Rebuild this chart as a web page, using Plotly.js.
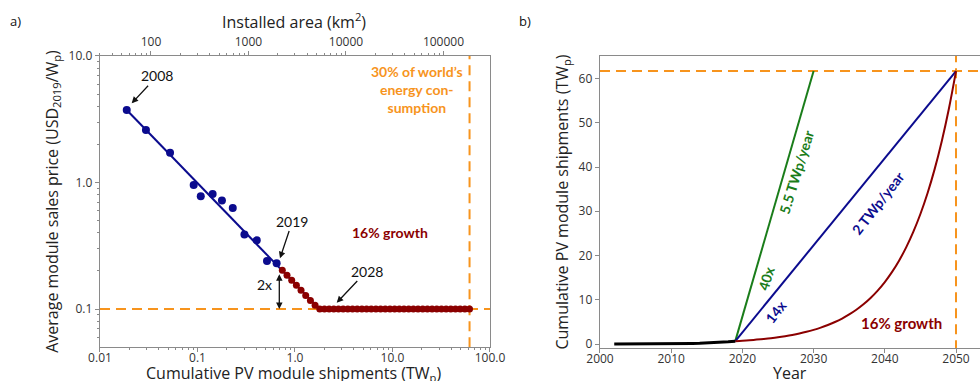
<!DOCTYPE html>
<html>
<head>
<meta charset="utf-8">
<script src="https://cdn.plot.ly/plotly-3.0.1.min.js"></script>
<style>html,body{margin:0;padding:0;background:#fff;}#chart{width:980px;height:381px;}</style>
</head>
<body>
<div id="chart"></div>
<script>
// ---- Panel a data: learning curve ----
const histShipments = [0.0188, 0.0296, 0.0523, 0.0914, 0.108, 0.143, 0.178, 0.230, 0.303, 0.405, 0.516, 0.648]; // TWp, 2008-2019
const histPrice = [3.74, 2.60, 1.72, 0.955, 0.78, 0.81, 0.72, 0.63, 0.389, 0.349, 0.24, 0.23]; // USD2019/Wp
const fitShipments = [0.0188, 1.78];
const fitPrice = [3.74, 0.1];
const projShipments = [0.741, 0.828, 0.925, 1.033, 1.153, 1.288, 1.439, 1.607, 1.795, 2.004, 2.239, 2.500, 2.793, 3.119, 3.483, 3.890, 4.345, 4.853, 5.420, 6.053, 6.761, 7.551, 8.433, 9.419, 10.52, 11.75, 13.12, 14.66, 16.37, 18.28, 20.42, 22.80, 25.47, 28.44, 31.77, 35.48, 39.63, 44.26, 49.43, 55.21, 61.66];
const projPrice = [0.203, 0.185, 0.169, 0.154, 0.141, 0.128, 0.117, 0.107, 0.1, 0.1, 0.1, 0.1, 0.1, 0.1, 0.1, 0.1, 0.1, 0.1, 0.1, 0.1, 0.1, 0.1, 0.1, 0.1, 0.1, 0.1, 0.1, 0.1, 0.1, 0.1, 0.1, 0.1, 0.1, 0.1, 0.1, 0.1, 0.1, 0.1, 0.1, 0.1, 0.1];
const floorPrice = 0.1;
const targetTW = 61.7;
const xTickVals = [0.01, 0.1, 1, 10, 100];
const xTickText = ['0.01', '0.1', '1.0', '10.0', '100.0'];
const yTickVals = [0.1, 1, 10];
const yTickText = ['0.1', '1.0', '10.0'];
const areaTickVals = [100, 1000, 10000, 100000];
const areaTickText = ['100', '1000', '10000', '100000'];
const areaPerTW = 3000; // km² per TWp

// ---- Panel b data: cumulative shipments ----
const histYears = [2002, 2003, 2004, 2005, 2006, 2007, 2008, 2009, 2010, 2011, 2012, 2013, 2014, 2015, 2016, 2017, 2018, 2019];
const histCum = [0.002, 0.003, 0.004, 0.006, 0.008, 0.011, 0.0188, 0.0296, 0.0523, 0.0914, 0.108, 0.143, 0.178, 0.230, 0.303, 0.405, 0.516, 0.648];
const growthYears = [2019, 2020, 2021, 2022, 2023, 2024, 2025, 2026, 2027, 2028, 2029, 2030, 2031, 2032, 2033, 2034, 2035, 2036, 2037, 2038, 2039, 2040, 2041, 2042, 2043, 2044, 2045, 2046, 2047, 2048, 2049, 2050];
const growthCum = [0.648, 0.747, 0.862, 0.995, 1.150, 1.329, 1.537, 1.779, 2.059, 2.384, 2.760, 3.197, 3.704, 4.292, 4.974, 5.766, 6.684, 7.748, 8.984, 10.416, 12.078, 14.006, 16.242, 18.836, 21.846, 25.336, 29.386, 34.082, 39.531, 45.852, 53.184, 61.689];
const fastYears = [2019, 2030];
const fastCum = [0.648, 61.7];
const linYears = [2019, 2050];
const linCum = [0.648, 61.7];
const targetYear = 2050;

const BLUE = '#0b0b8e', RED = '#8b0000', GREEN = '#1a7d1a', ORANGE = '#f7941d';
const SPINE = '#8a8a8a', TICKC = '#333';
const FONT = 'Open Sans, sans-serif', AFONT = 'Lato, sans-serif';

function minorLog(lo, hi) {
  const v = [];
  for (let d = lo; d < hi; d *= 10) for (let k = 2; k <= 9; k++) v.push(d * k);
  return v;
}

const traces = [
  {x: [0.01, 100], y: [floorPrice, floorPrice], xaxis: 'x', yaxis: 'y', mode: 'lines', line: {color: ORANGE, width: 2, dash: '10px,6px'}, hoverinfo: 'skip'},
  {x: [targetTW, targetTW], y: [0.05, 10], xaxis: 'x', yaxis: 'y', mode: 'lines', line: {color: ORANGE, width: 2, dash: '10px,6px'}, hoverinfo: 'skip'},
  {x: fitShipments, y: fitPrice, xaxis: 'x', yaxis: 'y', mode: 'lines', line: {color: BLUE, width: 2}},
  {x: histShipments, y: histPrice, xaxis: 'x', yaxis: 'y', mode: 'markers', marker: {color: BLUE, size: 8}},
  {x: projShipments, y: projPrice, xaxis: 'x', yaxis: 'y', mode: 'markers', marker: {color: RED, size: 7}},
  {x: areaTickVals, y: areaTickVals.map(() => floorPrice), xaxis: 'x3', yaxis: 'y', mode: 'markers', marker: {opacity: 0}, hoverinfo: 'skip'},
  // panel b
  {x: [2000, 2060], y: [targetTW, targetTW], xaxis: 'x2', yaxis: 'y2', mode: 'lines', line: {color: ORANGE, width: 2, dash: '10px,6px'}, hoverinfo: 'skip'},
  {x: [targetYear, targetYear], y: [-5, 70], xaxis: 'x2', yaxis: 'y2', mode: 'lines', line: {color: ORANGE, width: 2, dash: '10px,6px'}, hoverinfo: 'skip'},
  {x: fastYears, y: fastCum, xaxis: 'x2', yaxis: 'y2', mode: 'lines', line: {color: GREEN, width: 2}},
  {x: linYears, y: linCum, xaxis: 'x2', yaxis: 'y2', mode: 'lines', line: {color: BLUE, width: 2}},
  {x: growthYears, y: growthCum, xaxis: 'x2', yaxis: 'y2', mode: 'lines', line: {color: RED, width: 2, shape: 'spline'}},
  {x: histYears, y: histCum, xaxis: 'x2', yaxis: 'y2', mode: 'lines', line: {color: '#000', width: 3}}
];

const tickFont = {family: FONT, size: 12, color: TICKC};
const titleFont = {family: FONT, size: 16, color: '#222'};
const axCommon = {showgrid: false, zeroline: false, showline: true, linecolor: SPINE, linewidth: 1.3, ticks: 'outside', ticklen: 4, tickwidth: 1, tickcolor: SPINE, tickfont: tickFont, automargin: false};

const lg = Math.log10;
const annA = (o) => Object.assign({xref: 'x', yref: 'y', font: {family: AFONT, size: 14, color: '#111'}, arrowcolor: '#111', arrowwidth: 1.3, arrowhead: 2, arrowsize: 1}, o);
const annB = (o) => Object.assign({xref: 'x2', yref: 'y2', showarrow: false, font: {family: AFONT, size: 14}}, o);
const annP = (o) => Object.assign({xref: 'paper', yref: 'paper', showarrow: false, xanchor: 'center', yanchor: 'middle', font: titleFont}, o);

const layout = {
  width: 980, height: 381,
  margin: {l: 0, r: 0, t: 0, b: 0},
  paper_bgcolor: '#fff', plot_bgcolor: '#fff',
  showlegend: false,
  xaxis: Object.assign({}, axCommon, {domain: [0.10204, 0.5], anchor: 'y', type: 'log', range: [-2, 2], mirror: true,
    tickmode: 'array', tickvals: xTickVals, ticktext: xTickText, ticklabelstandoff: -5,
    minor: {tickmode: 'array', tickvals: minorLog(0.01, 100), ticks: 'outside', ticklen: 2, tickcolor: SPINE}}),
  xaxis3: Object.assign({}, axCommon, {overlaying: 'x', anchor: 'y', side: 'top', type: 'log', range: [lg(0.01 * areaPerTW), lg(100 * areaPerTW)],
    showline: false, tickmode: 'array', tickvals: areaTickVals, ticktext: areaTickText,
    minor: {tickmode: 'array', tickvals: minorLog(10, 100000).filter(v => v >= 30 && v <= 300000), ticks: 'outside', ticklen: 2, tickcolor: SPINE}}),
  yaxis: Object.assign({}, axCommon, {domain: [0.08924, 0.85302], anchor: 'x', type: 'log', range: [-1.3, 1], mirror: true,
    tickmode: 'array', tickvals: yTickVals, ticktext: yTickText,
    minor: {tickmode: 'array', tickvals: minorLog(0.01, 10).filter(v => v >= 0.05), ticks: 'outside', ticklen: 2, tickcolor: SPINE},
    title: {text: 'Average module sales price (USD<sub>2019</sub>/W<sub>p</sub>)', font: titleFont, standoff: 6}}),
  xaxis2: Object.assign({}, axCommon, {domain: [0.61224, 1], anchor: 'y2', range: [2000, 2053.37], mirror: true,
    tickmode: 'array', tickvals: [2000, 2010, 2020, 2030, 2040, 2050], ticklabelstandoff: -5}),
  yaxis2: Object.assign({}, axCommon, {domain: [0.08661, 0.85302], anchor: 'x2', range: [-0.9, 65.1],
    tickmode: 'array', tickvals: [0, 10, 20, 30, 40, 50, 60],
    title: {text: 'Cumulative PV module shipments (TW<sub>p</sub>)', font: titleFont, standoff: 6}}),
  annotations: [
    annP({x: 293 / 980, y: 1 - 373 / 381, text: 'Cumulative PV module shipments (TW<sub>p</sub>)'}),
    annP({x: 294 / 980, y: 1 - 21 / 381, text: 'Installed area (km<sup>2</sup>)'}),
    annP({x: 790 / 980, y: 1 - 373 / 381, text: 'Year'}),
    annP({x: 15 / 980, y: 1 - 21 / 381, text: 'a)', font: {family: FONT, size: 13, color: '#111'}}),
    annP({x: 525 / 980, y: 1 - 21 / 381, text: 'b)', font: {family: FONT, size: 13, color: '#111'}}),
    annA({x: -1.675, y: 0.626, ax: 25.8, ay: -27.5, text: '2008'}),
    annA({x: -0.154, y: -0.599, ax: 12.5, ay: -37.3, text: '2019'}),
    annA({x: 0.428, y: -0.95, ax: 30, ay: -31.7, text: '2028'}),
    annA({x: -0.161, y: -1, axref: 'x', ayref: 'y', ax: -0.161, ay: -0.713, text: '', arrowside: 'end+start'}),
    annA({x: -0.308, y: -0.81, showarrow: false, text: '2x'}),
    annA({x: 0.974, y: -0.395, showarrow: false, text: '<b>16% growth</b>', font: {family: AFONT, size: 14, color: RED}}),
    annA({x: 1.248, y: 0.737, showarrow: false, text: '<b>30% of world’s<br>energy con-<br>sumption</b>', font: {family: AFONT, size: 14, color: ORANGE}}),
    annB({x: 2027.63, y: 38.95, textangle: -73, text: '<b>5.5 TWp/year</b>', font: {family: AFONT, size: 14, color: GREEN}}),
    annB({x: 2023.31, y: 14.85, textangle: -73, text: '<b>40x</b>', font: {family: AFONT, size: 14, color: GREEN}}),
    annB({x: 2039.1, y: 32.0, textangle: -52, text: '<b>2 TWp/year</b>', font: {family: AFONT, size: 14, color: BLUE}}),
    annB({x: 2024.72, y: 7.3, textangle: -52, text: '<b>14x</b>', font: {family: AFONT, size: 14, color: BLUE}}),
    annB({x: 2042.37, y: 4.82, text: '<b>16% growth</b>', font: {family: AFONT, size: 15, color: RED}})
  ]
};

Plotly.newPlot('chart', traces, layout, {staticPlot: true});
</script>
</body>
</html>
